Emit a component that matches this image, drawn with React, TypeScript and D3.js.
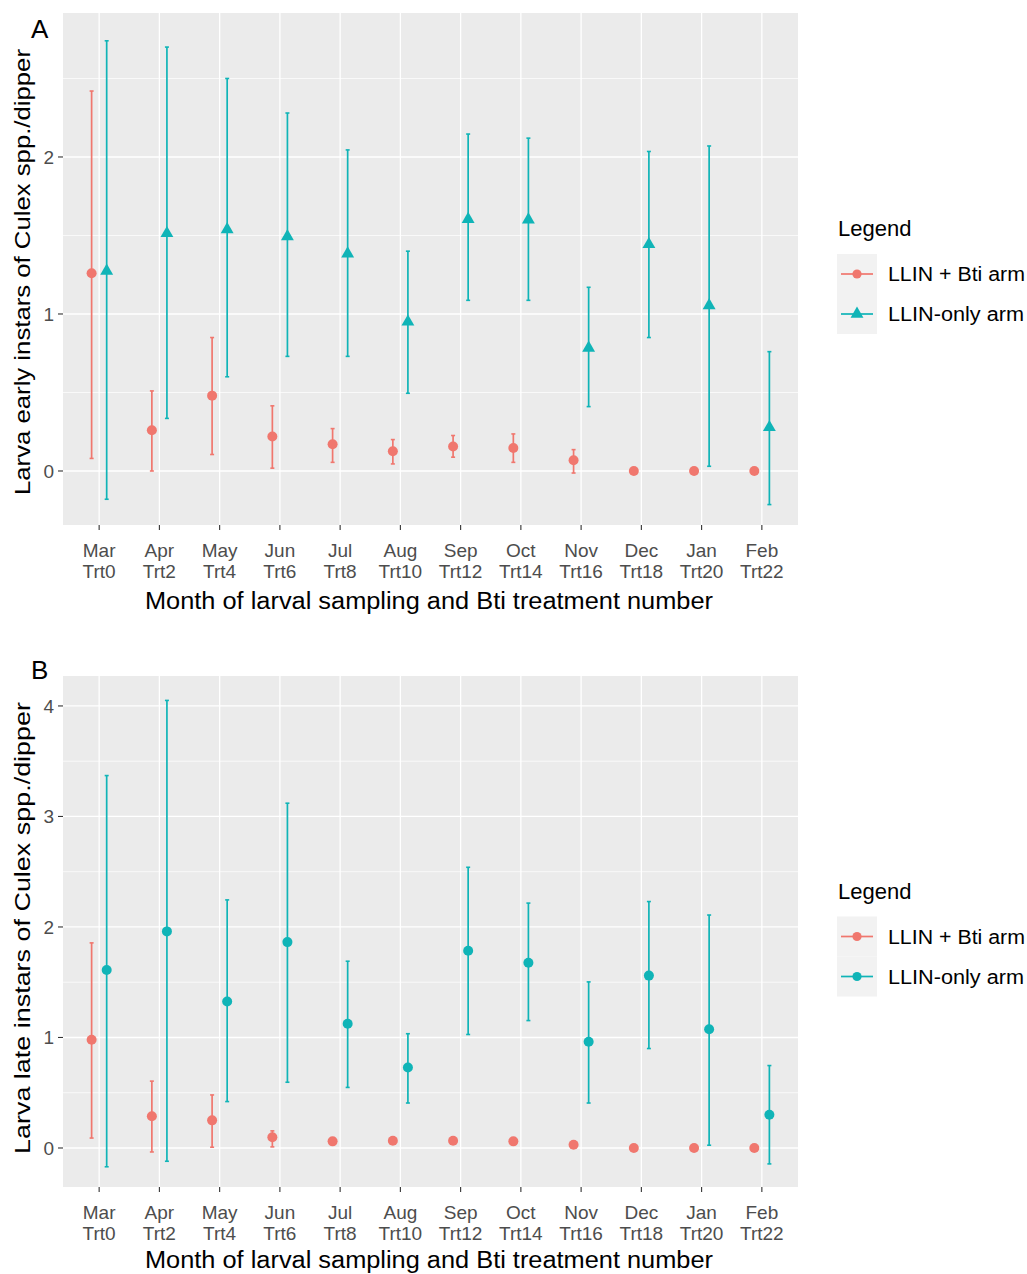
import * as React from 'react';
import * as d3 from 'd3';

const months = ['Mar', 'Apr', 'May', 'Jun', 'Jul', 'Aug', 'Sep', 'Oct', 'Nov', 'Dec', 'Jan', 'Feb'];
const treatments = ['Trt0', 'Trt2', 'Trt4', 'Trt6', 'Trt8', 'Trt10', 'Trt12', 'Trt14', 'Trt16', 'Trt18', 'Trt20', 'Trt22'];
const seriesNames = ['LLIN + Bti arm', 'LLIN-only arm'];

// panel A: early instars
const earlyBti = [1.26, 0.26, 0.48, 0.22, 0.17, 0.126, 0.156, 0.146, 0.068, 0, 0, 0];
const earlyBtiLo = [0.08, 0, 0.105, 0.018, 0.055, 0.045, 0.088, 0.055, -0.013, 0, 0, 0];
const earlyBtiHi = [2.42, 0.51, 0.85, 0.415, 0.27, 0.2, 0.226, 0.236, 0.136, 0, 0, 0];
const earlyOnly = [1.28, 1.52, 1.545, 1.5, 1.39, 0.956, 1.61, 1.607, 0.79, 1.45, 1.06, 0.284];
const earlyOnlyLo = [-0.18, 0.335, 0.6, 0.73, 0.73, 0.495, 1.087, 1.087, 0.41, 0.85, 0.03, -0.214];
const earlyOnlyHi = [2.74, 2.7, 2.5, 2.28, 2.045, 1.4, 2.146, 2.12, 1.17, 2.035, 2.07, 0.76];

// panel B: late instars
const lateBti = [0.98, 0.288, 0.25, 0.097, 0.06, 0.065, 0.065, 0.06, 0.03, 0, 0, 0];
const lateBtiLo = [0.09, -0.036, 0.007, 0.01, 0.04, 0.04, 0.05, 0.04, 0.02, 0, 0, 0];
const lateBtiHi = [1.856, 0.605, 0.48, 0.155, 0.08, 0.09, 0.08, 0.085, 0.045, 0, 0, 0];
const lateOnly = [1.61, 1.96, 1.326, 1.863, 1.124, 0.728, 1.784, 1.676, 0.962, 1.56, 1.074, 0.3];
const lateOnlyLo = [-0.17, -0.12, 0.42, 0.595, 0.548, 0.407, 1.027, 1.153, 0.407, 0.9, 0.025, -0.144];
const lateOnlyHi = [3.37, 4.05, 2.245, 3.12, 1.69, 1.034, 2.54, 2.216, 1.503, 2.23, 2.108, 0.746];

const RED = '#F0776E';
const TEAL = '#10B4B7';
const FONT = '"Liberation Sans", Arial, sans-serif';

interface Series {
  mean: number[];
  lo: number[];
  hi: number[];
}

interface PanelProps {
  top: number;
  bottom: number;
  letterY: number;
  yDomain: [number, number];
  yTicks: number[];
  letter: string;
  yTitle: string;
  yTitleCenter: number;
  yTitleLength: number;
  xTitleY: number;
  bti: Series;
  only: Series;
  triangle: boolean;
}

const left = 63;
const right = 798;

const Panel = (props: PanelProps) => {
  const {top, bottom, letterY, yDomain, yTicks, letter, yTitle, yTitleCenter, yTitleLength, xTitleY, bti, only, triangle} = props;
  const x = d3.scalePoint<string>().domain(months).range([left, right]).padding(0.6);
  const y = d3.scaleLinear().domain(yDomain).range([bottom, top]);
  const dodge = x.step() * 0.125;
  const minor = d3.range(Math.ceil(yDomain[0] * 2) / 2, yDomain[1], 0.5).filter(v => !yTicks.includes(v));
  const tri = d3.symbol(d3.symbolTriangle, 72)();

  const drawSeries = (s: Series, color: string, off: number, shape: 'circle' | 'triangle') =>
    months.map((m, i) => {
      const cx = (x(m) as number) + off;
      const cap = 2;
      return (
        <g key={`${color}-${m}`}>
          <line x1={cx} x2={cx} y1={y(s.lo[i])} y2={y(s.hi[i])} stroke={color} strokeWidth={1.7}/>
          <line x1={cx - cap} x2={cx + cap} y1={y(s.lo[i])} y2={y(s.lo[i])} stroke={color} strokeWidth={1.6}/>
          <line x1={cx - cap} x2={cx + cap} y1={y(s.hi[i])} y2={y(s.hi[i])} stroke={color} strokeWidth={1.6}/>
          {shape === 'circle'
            ? <circle cx={cx} cy={y(s.mean[i])} r={5} fill={color}/>
            : <path d={tri as string} transform={`translate(${cx},${y(s.mean[i]) + 1})`} fill={color}/>}
        </g>
      );
    });

  const mid = (top + bottom) / 2;
  const legTop = mid - 33;

  return (
    <g>
      <text x={31} y={letterY} fontSize={26} fontFamily={FONT} fill="#000">{letter}</text>
      <rect x={left} y={top} width={right - left} height={bottom - top} fill="#EBEBEB"/>
      {minor.map(v => (
        <line key={`mi${v}`} x1={left} x2={right} y1={y(v)} y2={y(v)} stroke="#fff" strokeWidth={0.7}/>
      ))}
      {yTicks.map(v => (
        <line key={`ma${v}`} x1={left} x2={right} y1={y(v)} y2={y(v)} stroke="#fff" strokeWidth={1.3}/>
      ))}
      {months.map(m => (
        <line key={`mx${m}`} x1={x(m)} x2={x(m)} y1={top} y2={bottom} stroke="#fff" strokeWidth={1.3}/>
      ))}
      {drawSeries(bti, RED, -dodge, 'circle')}
      {drawSeries(only, TEAL, dodge, triangle ? 'triangle' : 'circle')}
      {yTicks.map(v => (
        <g key={`yt${v}`}>
          <line x1={left - 5} x2={left} y1={y(v)} y2={y(v)} stroke="#333" strokeWidth={1.1}/>
          <text x={left - 9} y={y(v)} dy="0.36em" textAnchor="end" fontSize={19} fontFamily={FONT} fill="#4D4D4D">{v}</text>
        </g>
      ))}
      {months.map((m, i) => (
        <g key={`xt${m}`}>
          <line x1={x(m)} x2={x(m)} y1={bottom} y2={bottom + 5} stroke="#333" strokeWidth={1.1}/>
          <text x={x(m)} y={bottom + 32} textAnchor="middle" fontSize={19} fontFamily={FONT} fill="#4D4D4D">{m}</text>
          <text x={x(m)} y={bottom + 53} textAnchor="middle" fontSize={19} fontFamily={FONT} fill="#4D4D4D">{treatments[i]}</text>
        </g>
      ))}
      <text x={429} y={xTitleY} textAnchor="middle" fontSize={23} fontFamily={FONT} fill="#000"
        textLength={568} lengthAdjust="spacingAndGlyphs">
        Month of larval sampling and Bti treatment number
      </text>
      <text transform={`translate(30,${yTitleCenter}) rotate(-90)`} textAnchor="middle" fontSize={22} fontFamily={FONT} fill="#000"
        textLength={yTitleLength} lengthAdjust="spacingAndGlyphs">
        {yTitle}
      </text>

      {/* legend */}
      <text x={838} y={legTop} fontSize={22} fontFamily={FONT} fill="#000">Legend</text>
      {seriesNames.map((name, i) => {
        const cy = legTop + 38 + i * 40;
        const color = i === 0 ? RED : TEAL;
        return (
          <g key={name}>
            <rect x={837} y={cy - 20} width={40} height={40} fill="#F2F2F2"/>
            <line x1={841} x2={873} y1={cy} y2={cy} stroke={color} strokeWidth={1.7}/>
            {i === 1 && triangle
              ? <path d={tri as string} transform={`translate(857,${cy})`} fill={color}/>
              : <circle cx={857} cy={cy} r={4.6} fill={color}/>}
            <text x={888} y={cy} dy="0.36em" fontSize={20} fontFamily={FONT} fill="#000"
              textLength={i === 0 ? 137 : 136} lengthAdjust="spacingAndGlyphs">{name}</text>
          </g>
        );
      })}
    </g>
  );
};

export default function App() {
  return (
    <svg width={1027} height={1274} style={{position: 'absolute', left: 0, top: 0, background: '#fff'}}>
      <Panel
        top={13}
        bottom={525}
        letterY={38}
        yDomain={[-0.344, 2.917]}
        yTicks={[0, 1, 2]}
        letter="A"
        yTitle="Larva early instars of Culex spp./dipper"
        yTitleCenter={272}
        yTitleLength={446}
        xTitleY={609}
        bti={{mean: earlyBti, lo: earlyBtiLo, hi: earlyBtiHi}}
        only={{mean: earlyOnly, lo: earlyOnlyLo, hi: earlyOnlyHi}}
        triangle={true}
      />
      <Panel
        top={676}
        bottom={1187}
        letterY={679}
        yDomain={[-0.353, 4.271]}
        yTicks={[0, 1, 2, 3, 4]}
        letter="B"
        yTitle="Larva late instars of Culex spp./dipper"
        yTitleCenter={928}
        yTitleLength={452}
        xTitleY={1268}
        bti={{mean: lateBti, lo: lateBtiLo, hi: lateBtiHi}}
        only={{mean: lateOnly, lo: lateOnlyLo, hi: lateOnlyHi}}
        triangle={false}
      />
    </svg>
  );
}
